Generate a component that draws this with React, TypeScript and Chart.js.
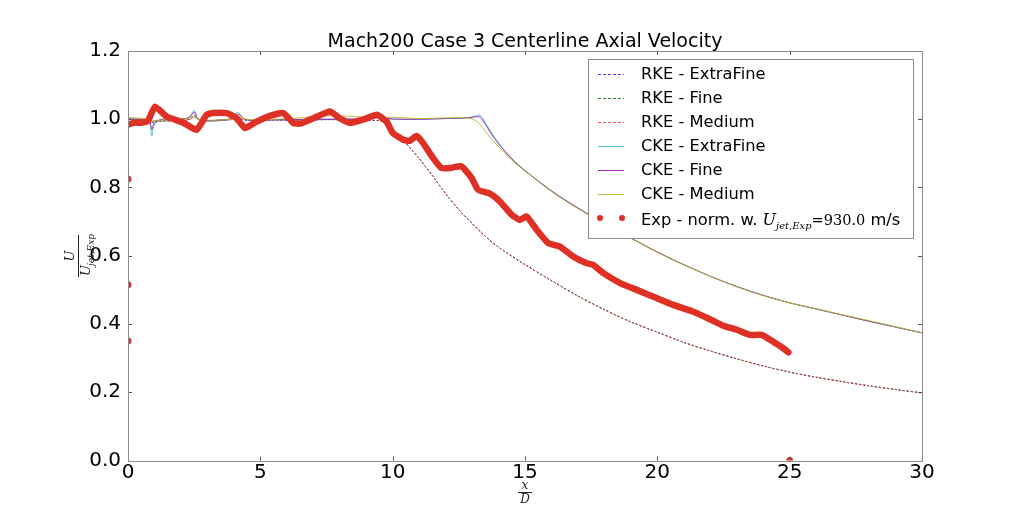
import React, { useEffect, useRef } from 'react';
import { Chart, registerables } from 'chart.js';

Chart.register(...registerables);

// x/D positions and U/U_jet values
const xTicks = [0, 5, 10, 15, 20, 25, 30];
const yTicks = [0, 0.2, 0.4, 0.6, 0.8, 1.0, 1.2];

const rkeX = [0, 0.5, 0.9, 1.2, 1.6, 2.0, 2.3, 2.5, 2.7, 3.0, 3.5, 3.9, 4.1, 4.3, 4.7, 5.5, 6.5, 7.5, 8.5, 9.0, 9.5, 9.8, 10.0, 10.5, 11, 11.5, 12, 12.5, 13, 13.5, 14, 15, 16, 17, 18, 19, 20, 21, 22, 23, 24, 25, 26, 27, 28, 29, 30];
const rkeExtraFine = [1.0, 0.998, 0.99, 0.995, 0.995, 0.996, 1.0, 1.012, 0.998, 0.995, 0.996, 1.0, 1.012, 1.0, 0.996, 0.998, 0.997, 0.999, 0.998, 0.997, 0.996, 0.99, 0.972, 0.93, 0.885, 0.835, 0.782, 0.735, 0.695, 0.657, 0.625, 0.574, 0.527, 0.482, 0.442, 0.406, 0.376, 0.346, 0.321, 0.298, 0.277, 0.259, 0.244, 0.231, 0.219, 0.208, 0.198];
const rkeFine = [1.0, 0.997, 0.992, 0.994, 0.995, 0.996, 0.999, 1.008, 0.999, 0.995, 0.996, 1.0, 1.008, 1.0, 0.996, 0.998, 0.997, 0.999, 0.998, 0.997, 0.996, 0.99, 0.972, 0.93, 0.885, 0.835, 0.782, 0.735, 0.695, 0.657, 0.625, 0.574, 0.527, 0.482, 0.442, 0.406, 0.376, 0.346, 0.321, 0.298, 0.277, 0.259, 0.244, 0.231, 0.219, 0.208, 0.198];
const rkeMedium = [1.002, 0.998, 0.995, 0.995, 0.996, 0.996, 0.999, 1.004, 0.999, 0.996, 0.997, 0.999, 1.004, 1.0, 0.997, 0.998, 0.998, 0.999, 0.998, 0.997, 0.996, 0.99, 0.972, 0.93, 0.885, 0.835, 0.782, 0.735, 0.695, 0.657, 0.625, 0.574, 0.527, 0.482, 0.442, 0.406, 0.376, 0.346, 0.321, 0.298, 0.277, 0.259, 0.244, 0.231, 0.219, 0.208, 0.198];

const ckeX = [0, 0.5, 0.8, 0.9, 1.0, 1.3, 2.0, 2.3, 2.5, 2.65, 3.0, 3.5, 3.9, 4.1, 4.2, 4.4, 4.7, 5.5, 6.5, 7.5, 8.0, 9.0, 9.5, 10, 11, 12, 12.8, 13.1, 13.3, 13.5, 13.7, 14, 14.5, 15, 16, 17, 18, 19, 20, 21, 22, 23, 24, 25, 26, 27, 28, 29, 30];
const ckeExtraFine = [1.0, 1.0, 0.995, 0.95, 0.985, 1.0, 1.0, 1.006, 1.025, 1.0, 0.995, 0.998, 1.002, 1.02, 1.018, 1.0, 0.997, 0.998, 0.999, 1.0, 1.0, 1.002, 1.005, 1.0, 1.0, 1.002, 1.004, 1.008, 1.012, 0.99, 0.965, 0.93, 0.885, 0.85, 0.79, 0.74, 0.695, 0.652, 0.611, 0.574, 0.54, 0.51, 0.484, 0.462, 0.444, 0.426, 0.408, 0.391, 0.374];
const ckeFine = [1.0, 1.0, 0.997, 0.97, 0.99, 1.0, 1.0, 1.005, 1.02, 1.0, 0.996, 0.998, 1.002, 1.015, 1.014, 1.0, 0.997, 0.998, 0.999, 1.0, 1.0, 1.002, 1.005, 1.001, 1.0, 1.002, 1.004, 1.007, 1.006, 0.985, 0.96, 0.928, 0.884, 0.849, 0.79, 0.74, 0.695, 0.652, 0.611, 0.574, 0.54, 0.51, 0.484, 0.462, 0.444, 0.426, 0.408, 0.391, 0.374];
const ckeMedium = [1.005, 1.003, 1.0, 0.995, 0.996, 0.998, 1.0, 1.003, 1.01, 1.0, 0.997, 0.998, 1.0, 1.008, 1.008, 1.002, 0.998, 1.0, 1.004, 1.01, 1.01, 1.006, 1.005, 1.006, 1.002, 1.004, 1.004, 0.998, 0.985, 0.965, 0.945, 0.92, 0.88, 0.848, 0.788, 0.738, 0.693, 0.651, 0.61, 0.573, 0.54, 0.509, 0.483, 0.462, 0.445, 0.427, 0.41, 0.392, 0.374];

const expX = [0, 0.25, 0.5, 0.75, 1.02, 1.46, 2.09, 2.59, 2.97, 3.2, 3.73, 4.1, 4.42, 4.86, 5.36, 5.87, 6.25, 6.5, 7.0, 7.63, 8.0, 8.39, 8.89, 9.4, 9.77, 10.0, 10.4, 10.65, 10.9, 11.15, 11.53, 11.85, 12.17, 12.6, 12.98, 13.23, 13.68, 14.05, 14.5, 14.8, 15.06, 15.44, 15.88, 16.32, 16.82, 17.33, 17.58, 17.96, 18.6, 19.22, 19.97, 20.6, 21.36, 21.99, 22.49, 23.0, 23.5, 23.94, 24.38, 24.76, 24.95];
const expY = [0.984, 0.99, 0.99, 0.995, 1.037, 1.008, 0.99, 0.969, 1.013, 1.018, 1.018, 1.003, 0.974, 0.993, 1.01, 1.018, 0.989, 0.987, 1.003, 1.023, 1.003, 0.989, 0.999, 1.013, 0.993, 0.96, 0.94, 0.937, 0.951, 0.93, 0.886, 0.857, 0.857, 0.862, 0.828, 0.793, 0.782, 0.759, 0.72, 0.705, 0.715, 0.676, 0.637, 0.627, 0.598, 0.578, 0.573, 0.549, 0.52, 0.5, 0.476, 0.456, 0.436, 0.414, 0.395, 0.383, 0.368, 0.368, 0.348, 0.329, 0.317];
const expStrayX = [0, 0, 0, 25];
const expStrayY = [0.825, 0.515, 0.35, 0.0];

const xy = (xs: number[], ys: number[]) => xs.map((x, i) => ({ x, y: ys[i] }));

const RED = 'rgb(222,48,36)';
const SANS = "'DejaVu Sans', sans-serif";
const SERIF = "'DejaVu Serif', serif";

const legendItems = [
  { label: 'RKE - ExtraFine', color: 'rgba(40,40,255,0.85)', dash: [3, 2] },
  { label: 'RKE - Fine', color: 'rgba(0,120,0,0.85)', dash: [3, 2] },
  { label: 'RKE - Medium', color: 'rgba(255,40,40,0.85)', dash: [3, 2] },
  { label: 'CKE - ExtraFine', color: 'rgba(60,190,200,0.9)', dash: [] },
  { label: 'CKE - Fine', color: 'rgba(150,20,170,0.9)', dash: [] },
  { label: 'CKE - Medium', color: 'rgba(190,180,40,0.9)', dash: [] },
];

const decorPlugin = {
  id: 'decor',
  afterDraw(chart: any) {
    const { ctx, chartArea: a, scales } = chart;
    ctx.save();

    // ticks pointing inward on all four sides
    ctx.strokeStyle = '#555';
    ctx.lineWidth = 1;
    ctx.beginPath();
    xTicks.forEach((v) => {
      const p = Math.round(scales.x.getPixelForValue(v)) + 0.5;
      ctx.moveTo(p, a.bottom); ctx.lineTo(p, a.bottom - 4);
      ctx.moveTo(p, a.top); ctx.lineTo(p, a.top + 4);
    });
    yTicks.forEach((v) => {
      const p = Math.round(scales.y.getPixelForValue(v)) + 0.5;
      ctx.moveTo(a.left, p); ctx.lineTo(a.left + 4, p);
      ctx.moveTo(a.right, p); ctx.lineTo(a.right - 4, p);
    });
    ctx.stroke();

    // frame
    ctx.strokeStyle = '#8c8c8c';
    ctx.strokeRect(Math.round(a.left) + 0.5, Math.round(a.top) + 0.5, Math.round(a.right - a.left), Math.round(a.bottom - a.top));

    // legend box
    const lx = 588, ly = 59, lw = 325, lh = 179;
    ctx.fillStyle = '#fff';
    ctx.fillRect(lx, ly, lw, lh);
    ctx.strokeStyle = '#8c8c8c';
    ctx.strokeRect(lx + 0.5, ly + 0.5, lw, lh);
    ctx.font = `16.3px ${SANS}`;
    ctx.textBaseline = 'middle';
    ctx.textAlign = 'left';
    legendItems.forEach((it, i) => {
      const y = 74 + i * 24;
      ctx.strokeStyle = it.color;
      ctx.lineWidth = 1;
      ctx.setLineDash(it.dash);
      ctx.beginPath();
      ctx.moveTo(598, y + 0.5); ctx.lineTo(624, y + 0.5);
      ctx.stroke();
      ctx.setLineDash([]);
      ctx.fillStyle = '#000';
      ctx.fillText(it.label, 641, y + 1);
    });
    const ey = 218;
    ctx.fillStyle = RED;
    [600, 622].forEach((x) => { ctx.beginPath(); ctx.arc(x, ey, 3, 0, Math.PI * 2); ctx.fill(); });
    ctx.fillStyle = '#000';
    ctx.textBaseline = 'alphabetic';
    let tx = 641;
    const base = ey + 7;
    ctx.font = `16.3px ${SANS}`;
    const t1 = 'Exp - norm. w. ';
    ctx.fillText(t1, tx, base); tx += ctx.measureText(t1).width;
    ctx.font = `italic 16px ${SERIF}`;
    ctx.fillText('U', tx, base); tx += ctx.measureText('U').width;
    ctx.font = `italic 10px ${SERIF}`;
    ctx.fillText('jet,Exp', tx, base + 4); tx += ctx.measureText('jet,Exp').width;
    ctx.font = `14.5px ${SERIF}`;
    ctx.fillText('=930.0', tx, base); tx += ctx.measureText('=930.0').width;
    ctx.font = `16.3px ${SANS}`;
    ctx.fillText(' m/s', tx, base);

    // title
    ctx.font = `19px ${SANS}`;
    ctx.textAlign = 'center';
    ctx.textBaseline = 'middle';
    ctx.fillText('Mach200 Case 3 Centerline Axial Velocity', (a.left + a.right) / 2, 42);

    // x label: x / D
    const cx = (a.left + a.right) / 2;
    ctx.font = `italic 12px ${SERIF}`;
    ctx.fillStyle = '#222';
    ctx.fillText('x', cx, 486);
    ctx.fillText('D', cx, 500);
    ctx.fillRect(cx - 7, 492, 14, 1);

    // y label: U / U_jet,Exp (rotated)
    ctx.translate(78, 256);
    ctx.rotate(-Math.PI / 2);
    ctx.textBaseline = 'alphabetic';
    ctx.font = `italic 13px ${SERIF}`;
    ctx.fillText('U', 0, -4);
    ctx.fillRect(-21, 0, 42, 1);
    ctx.textAlign = 'left';
    ctx.fillText('U', -20, 12);
    ctx.font = `italic 9px ${SERIF}`;
    ctx.fillText('jet,Exp', -10, 16);
    ctx.restore();
  },
};

const App = () => {
  const canvasRef = useRef<HTMLCanvasElement>(null);
  const chartRef = useRef<Chart | null>(null);

  useEffect(() => {
    document.body.style.margin = '0';
    if (!canvasRef.current) return;
    if (chartRef.current) chartRef.current.destroy();

    const thin = (label: string, data: any, color: string, dash: number[], offset: number, order: number) => ({
      label, data, borderColor: color, borderWidth: 1, borderDash: dash, borderDashOffset: offset,
      pointRadius: 0, fill: false, tension: 0.3, order, clip: 0,
    });

    chartRef.current = new Chart(canvasRef.current, {
      type: 'line',
      data: {
        datasets: [
          {
            label: 'Exp', data: xy(expX, expY), borderColor: RED, borderWidth: 6.5,
            borderCapStyle: 'round', borderJoinStyle: 'round', pointRadius: 0, tension: 0.15, order: 0, clip: 0,
          },
          {
            label: 'Exp stray', data: xy(expStrayX, expStrayY), showLine: false,
            pointRadius: 3.5, pointBackgroundColor: RED, pointBorderWidth: 0, order: 0, clip: 0,
          },
          thin('CKE - Medium', xy(ckeX, ckeMedium), 'rgba(190,180,40,0.9)', [], 0, 1),
          thin('CKE - Fine', xy(ckeX, ckeFine), 'rgba(150,20,170,0.85)', [], 0, 2),
          thin('CKE - ExtraFine', xy(ckeX, ckeExtraFine), 'rgba(60,190,200,0.9)', [], 0, 3),
          thin('RKE - Medium', xy(rkeX, rkeMedium), 'rgba(255,40,40,0.85)', [2, 2], 2, 4),
          thin('RKE - Fine', xy(rkeX, rkeFine), 'rgba(0,120,0,0.85)', [2, 2], 0, 5),
          thin('RKE - ExtraFine', xy(rkeX, rkeExtraFine), 'rgba(40,40,255,0.85)', [2, 2], 0, 6),
        ] as any,
      },
      options: {
        animation: false,
        responsive: true,
        maintainAspectRatio: false,
        layout: { padding: { top: 51, right: 102, left: 0, bottom: 0 } },
        plugins: { legend: { display: false }, title: { display: false }, tooltip: { enabled: false } },
        scales: {
          x: {
            type: 'linear', min: 0, max: 30,
            afterBuildTicks: (s: any) => { s.ticks = xTicks.map((value) => ({ value })); },
            afterFit: (s: any) => { s.height = 51.5; },
            grid: { display: false, drawTicks: false },
            border: { display: false },
            ticks: { color: '#000', font: { family: SANS, size: 20 }, padding: 0, maxRotation: 0 },
          },
          y: {
            type: 'linear', min: 0, max: 1.2,
            afterBuildTicks: (s: any) => { s.ticks = yTicks.map((value) => ({ value })); },
            afterFit: (s: any) => { s.width = 128; },
            grid: { display: false, drawTicks: false },
            border: { display: false },
            ticks: { color: '#000', font: { family: SANS, size: 20 }, padding: 7, callback: (v: any) => Number(v).toFixed(1) },
          },
        },
      } as any,
      plugins: [decorPlugin],
    });

    return () => {
      if (chartRef.current) {
        chartRef.current.destroy();
        chartRef.current = null;
      }
    };
  }, []);

  return (
    <div style={{ position: 'relative', width: 1024, height: 512, background: '#fff' }}>
      <canvas ref={canvasRef}></canvas>
    </div>
  );
};

export default App;
